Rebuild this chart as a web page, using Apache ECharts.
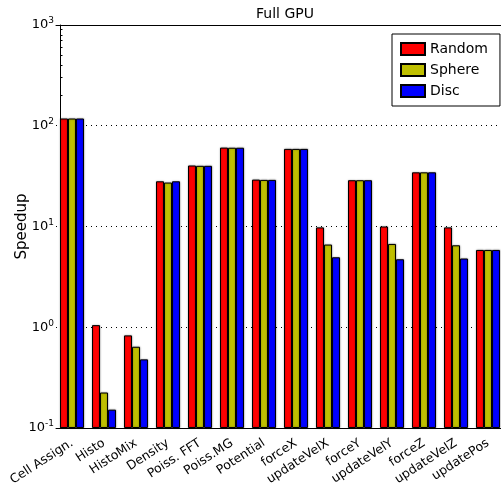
<!DOCTYPE html>
<html><head><meta charset="utf-8">
<script src="https://cdn.jsdelivr.net/npm/echarts@6/dist/echarts.min.js"></script>
<style>html,body{margin:0;padding:0;background:#fff}#c{width:501px;height:489px}</style>
</head><body><div id="c"></div>
<script>
const categories = ['Cell Assign.','Histo','HistoMix','Density','Poiss. FFT','Poiss.MG','Potential','forceX','updateVelX','forceY','updateVelY','forceZ','updateVelZ','updatePos'];
const randomVals = [118, 1.05, 0.83, 28.1, 40.3, 60.7, 29.2, 58.9, 9.8, 28.8, 10.0, 34.5, 9.8, 5.85];
const sphereVals = [118, 0.225, 0.64, 27.3, 40.0, 60.5, 29.0, 58.9, 6.62, 28.8, 6.71, 34.5, 6.51, 5.85];
const discVals = [118, 0.152, 0.48, 28.1, 40.0, 60.5, 29.0, 58.9, 4.95, 28.8, 4.73, 34.5, 4.81, 5.85];
const minorTicks = [];
for (let e = -1; e < 3; e++) for (let m = 2; m <= 9; m++) minorTicks.push(+(m * Math.pow(10, e)).toPrecision(3));

const FONT = 'DejaVu Sans';
const chart = echarts.init(document.getElementById('c'), null, {renderer: 'canvas'});
const barStyle = c => ({color: c, borderColor: '#000', borderWidth: 1, shadowColor: 'rgba(0,0,0,0.35)', shadowBlur: 2});
const mk = (name, data, c) => ({
  name, type: 'bar', data, barWidth: 8, barGap: '0%', itemStyle: barStyle(c), animation: false
});
chart.setOption({
  animation: false,
  textStyle: {fontFamily: FONT},
  title: {text: 'Full GPU', left: 280, textAlign: 'center', top: 2,
    textStyle: {fontFamily: FONT, fontSize: 14, fontWeight: 'normal', color: '#000'}},
  legend: {
    orient: 'vertical', left: 392, top: 34, itemWidth: 24, itemHeight: 12, itemGap: 7, icon: 'rect',
    padding: [8, 12, 8, 8], borderColor: '#000', borderWidth: 1, backgroundColor: '#fff',
    textStyle: {fontFamily: FONT, fontSize: 14, color: '#000'},
    data: ['Random', 'Sphere', 'Disc']
  },
  grid: {left: 56, top: 25, width: 448, height: 403, containLabel: false, outerBoundsMode: 'none'},
  xAxis: [{
    type: 'category', data: categories, position: 'bottom',
    axisLine: {lineStyle: {color: '#000', width: 1}},
    axisTick: {inside: true, length: 4, alignWithLabel: true, lineStyle: {color: '#000'}},
    axisLabel: {rotate: 33, interval: 0, margin: 14, fontFamily: FONT, fontSize: 12.5, color: '#000'},
    splitLine: {show: false}
  }, {
    type: 'category', data: categories, position: 'top',
    axisLine: {lineStyle: {color: '#000', width: 1}},
    axisTick: {inside: true, length: 4, alignWithLabel: true, lineStyle: {color: '#000'}},
    axisLabel: {show: false}, splitLine: {show: false}
  }],
  yAxis: [{
    type: 'log', logBase: 10, min: 0.1, max: 1000, startValue: 0.1, offset: -4,
    name: 'Speedup', nameLocation: 'middle', nameGap: 30, nameMoveOverlap: false,
    nameTextStyle: {fontFamily: FONT, fontSize: 15, color: '#000'},
    axisLine: {show: true, lineStyle: {color: '#000', width: 1}},
    axisTick: {show: true, inside: true, length: 5, lineStyle: {color: '#000'}},
    axisLabel: {
      margin: 6, color: '#000', fontFamily: FONT, fontSize: 13,
      formatter: v => '10{s|' + Math.round(Math.log10(v)) + '}',
      rich: {s: {fontSize: 9, fontFamily: FONT, color: '#000', verticalAlign: 'top', padding: [0, 0, 8, 0]}}
    },
    splitLine: {show: true, lineStyle: {color: '#000', type: [1, 4], width: 1}}
  }, {
    type: 'log', logBase: 10, min: 0.1, max: 1000, offset: -4, position: 'left',
    axisLine: {show: false},
    axisTick: {show: true, inside: true, length: 2.5, customValues: minorTicks, lineStyle: {color: '#000'}},
    axisLabel: {show: false}, splitLine: {show: false}
  }],
  series: [
    mk('Random', randomVals, '#ff0000'),
    mk('Sphere', sphereVals, '#bfbf00'),
    mk('Disc', discVals, '#0000ff')
  ]
});
</script></body></html>
